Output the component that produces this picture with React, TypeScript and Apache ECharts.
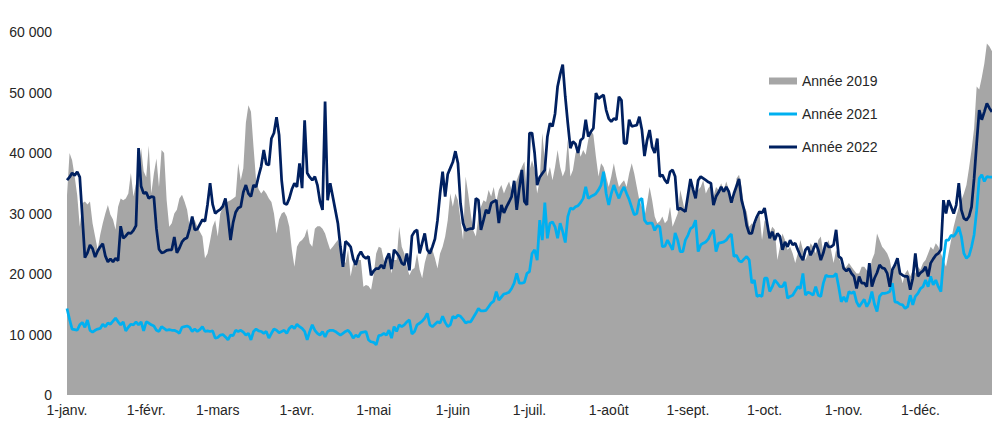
import React, { useEffect, useRef } from "react";
import * as echarts from "echarts";

// Month names used for the day categories (labels shown on the 1st of each month)
const monthNames = ["janv.", "févr.", "mars", "avr.", "mai", "juin", "juil.", "août", "sept.", "oct.", "nov.", "déc."];
const monthLengths = [31, 28, 31, 30, 31, 30, 31, 31, 30, 31, 30, 31];
const shownDays = 363; // the picture stops around 29 Dec

// Values in thousands, one per day
const annee2019 = [
  33.0, 40.0, 38.8, 36.1, 33.0, 27.8, 31.7, 32.0, 31.5, 32.0,
  28.4, 26.2, 24.0, 26.5, 28.4, 30.0, 31.4, 29.8, 29.0, 27.3,
  31.1, 32.5, 32.2, 32.5, 33.3, 36.7, 32.8, 35.0, 36.6, 40.8,
  37.0, 36.0, 41.2, 33.3, 36.6, 39.1, 34.4, 40.5, 40.0, 32.2,
  27.8, 28.4, 30.0, 30.6, 32.5, 33.1, 32.0, 30.6, 27.8, 28.9,
  28.9, 27.8, 27.0, 26.2, 22.6, 23.4, 25.5, 27.8, 28.9, 26.2,
  30.0, 31.0, 31.7, 32.0, 32.2, 32.5, 32.8, 38.3, 35.5, 37.5,
  45.0, 47.9, 46.8, 41.0, 35.5, 34.0, 33.3, 33.9, 33.3, 32.5,
  31.9, 30.0, 26.7, 29.0, 30.0, 30.3, 29.5, 27.8, 24.0, 21.2,
  24.5, 25.3, 25.6, 26.2, 27.5, 25.1, 24.5, 27.5, 27.9, 27.9,
  27.5, 26.7, 25.3, 24.0, 24.5, 25.1, 25.6, 24.0, 22.3, 21.8,
  24.0, 19.6, 21.8, 21.2, 22.3, 22.3, 17.9, 18.2, 18.0, 17.4,
  19.8, 23.4, 24.5, 24.3, 22.3, 21.5, 23.4, 20.1, 22.3, 22.3,
  27.8, 24.5, 23.4, 21.2, 19.8, 20.7, 21.0, 23.4, 20.7, 19.3,
  21.8, 23.4, 24.3, 24.0, 22.6, 20.9, 23.4, 24.5, 26.2, 28.9,
  33.3, 31.1, 33.3, 32.2, 28.9, 25.6, 36.1, 33.3, 30.0, 27.2,
  26.2, 29.5, 31.1, 32.2, 31.9, 33.9, 32.8, 34.4, 31.9, 33.9,
  34.7, 33.3, 34.4, 35.3, 33.9, 34.4, 35.5, 36.6, 37.7, 38.6,
  33.5, 37.2, 38.8, 37.2, 33.3, 35.5, 43.3, 38.8, 36.1, 37.7,
  35.5, 37.7, 40.5, 37.7, 36.1, 37.2, 42.2, 36.1, 37.2, 39.9,
  41.1, 39.4, 40.5, 39.7, 42.2, 43.8, 43.0, 39.4, 36.1, 38.3,
  37.7, 36.1, 34.4, 36.1, 38.3, 36.1, 34.4, 35.0, 35.5, 34.4,
  36.6, 38.3, 36.6, 34.4, 32.2, 31.1, 29.5, 31.7, 34.4, 32.2,
  29.5, 28.4, 28.7, 29.5, 28.4, 28.9, 31.1, 27.8, 28.9, 30.0,
  33.9, 32.0, 30.0, 32.2, 34.7, 33.5, 32.5, 33.9, 34.4, 35.5,
  33.3, 34.2, 34.7, 32.8, 34.4, 33.9, 35.0, 33.9, 35.3, 33.9,
  32.8, 32.2, 35.8, 36.4, 34.4, 31.1, 30.3, 27.8, 28.4, 27.8,
  28.9, 30.0, 25.6, 28.9, 28.4, 26.7, 27.8, 27.3, 22.3, 24.5,
  26.7, 25.6, 24.0, 24.5, 23.4, 21.8, 23.4, 25.6, 24.0, 22.3,
  23.4, 25.1, 24.5, 23.4, 25.6, 26.2, 23.4, 24.5, 25.6, 24.0,
  21.8, 24.0, 22.9, 21.5, 20.9, 21.2, 21.8, 21.2, 20.6, 20.1,
  20.1, 21.2, 21.2, 20.6, 20.1, 22.3, 23.4, 26.7, 25.6, 24.5,
  24.0, 23.4, 22.3, 20.1, 21.2, 21.8, 20.1, 18.5, 20.1, 20.7,
  19.6, 20.7, 20.1, 21.2, 20.7, 21.8, 22.3, 23.4, 24.5, 24.0,
  25.1, 24.5, 23.4, 22.3, 21.2, 23.4, 25.6, 27.8, 29.5, 31.0,
  32.2, 33.3, 34.7, 37.5, 40.5, 44.1, 51.0, 50.5, 52.5, 54.8,
  58.1, 57.6, 56.8,
];

const annee2021 = [
  14.3, 12.5, 10.9, 10.8, 10.7, 11.6, 12.0, 11.2, 12.4, 10.7,
  10.4, 10.7, 10.9, 11.0, 11.7, 11.3, 11.9, 11.7, 12.2, 12.7,
  12.1, 11.6, 12.1, 10.6, 11.2, 11.7, 11.6, 12.1, 11.6, 12.1,
  10.6, 12.1, 11.9, 11.6, 11.4, 10.7, 10.5, 11.3, 11.0, 10.7,
  10.8, 10.7, 10.7, 10.5, 10.2, 11.2, 11.3, 11.4, 11.2, 10.5,
  10.9, 10.5, 10.8, 11.3, 10.5, 10.6, 10.5, 10.6, 9.4, 9.5,
  9.9, 10.0, 9.6, 9.1, 9.9, 9.8, 10.7, 10.5, 10.7, 10.4,
  9.9, 10.2, 9.1, 10.5, 10.9, 10.6, 10.5, 10.2, 10.5, 9.4,
  10.2, 10.9, 10.7, 10.3, 10.5, 10.7, 10.2, 11.0, 11.4, 11.0,
  11.7, 11.3, 11.0, 10.5, 9.1, 10.5, 11.6, 10.7, 10.2, 9.9,
  10.5, 9.6, 10.5, 10.7, 10.7, 10.5, 10.2, 9.9, 10.2, 10.5,
  10.7, 10.2, 9.4, 9.9, 9.6, 10.3, 10.4, 10.5, 9.1, 8.8,
  8.7, 8.3, 9.8, 9.9, 10.2, 9.9, 10.7, 9.4, 11.3, 10.5,
  11.6, 11.3, 11.6, 12.1, 12.4, 10.1, 10.5, 11.6, 11.9, 12.2,
  12.7, 13.5, 11.6, 11.3, 11.7, 12.1, 11.9, 13.0, 12.0, 11.3,
  11.6, 13.0, 12.7, 13.2, 13.0, 12.5, 11.9, 12.1, 12.1, 12.8,
  13.5, 14.3, 13.9, 13.9, 14.0, 14.6, 15.2, 15.5, 17.1, 15.7,
  16.2, 16.7, 16.8, 17.0, 17.6, 18.5, 20.1, 18.5, 18.5, 18.6,
  20.1, 20.4, 23.4, 24.0, 22.3, 28.9, 25.6, 31.8, 25.9, 28.4,
  28.6, 27.8, 25.9, 28.4, 27.0, 25.2, 29.5, 30.9, 30.7, 31.1,
  31.3, 31.8, 32.5, 34.4, 32.5, 32.8, 33.0, 33.3, 33.9, 34.7,
  36.9, 33.3, 31.4, 33.3, 34.7, 33.5, 32.5, 33.6, 34.4, 33.3,
  32.3, 31.0, 29.8, 30.0, 32.2, 32.5, 28.9, 28.3, 28.4, 28.4,
  27.2, 28.0, 27.8, 24.5, 24.6, 25.6, 24.8, 24.0, 26.8, 25.6,
  23.7, 23.7, 25.6, 26.4, 27.5, 27.8, 28.9, 23.7, 24.8, 25.1,
  25.3, 25.8, 26.7, 27.3, 23.7, 25.1, 25.2, 25.3, 25.6, 26.2,
  26.6, 22.9, 23.1, 22.2, 22.0, 22.5, 22.9, 22.3, 18.5, 19.0,
  16.3, 16.5, 16.3, 19.3, 19.3, 17.1, 17.9, 19.0, 18.5, 17.9,
  17.9, 18.7, 16.0, 16.3, 16.5, 17.2, 17.9, 17.6, 20.1, 16.5,
  17.0, 16.8, 16.5, 17.9, 16.5, 16.3, 18.5, 19.8, 19.6, 19.6,
  19.6, 20.1, 17.9, 15.4, 16.2, 15.4, 17.1, 16.8, 17.1, 15.4,
  14.6, 15.2, 15.8, 14.6, 15.4, 17.1, 15.0, 13.8, 16.3, 16.8,
  16.8, 16.9, 17.1, 18.5, 15.4, 15.3, 15.0, 14.9, 14.3, 14.6,
  16.5, 14.9, 16.3, 16.8, 17.6, 17.9, 19.0, 17.9, 19.6, 18.2,
  19.0, 17.9, 17.1, 22.3, 25.6, 25.6, 26.4, 26.2, 26.8, 27.8,
  26.2, 23.4, 22.6, 23.0, 24.5, 26.5, 30.5, 35.8, 36.4, 35.3,
  36.1, 36.0, 36.0,
];

const annee2022 = [
  35.5, 36.0, 36.7, 36.3, 36.9, 36.0, 29.5, 22.7, 23.5, 24.8,
  24.2, 22.8, 23.8, 24.5, 25.0, 23.0, 22.0, 22.5, 22.0, 22.6,
  22.2, 27.9, 25.9, 26.3, 26.8, 26.7, 27.2, 28.0, 40.8, 34.5,
  33.3, 33.5, 32.5, 32.8, 32.7, 27.5, 24.1, 23.5, 23.6, 23.9,
  24.0, 24.0, 26.1, 23.5, 24.3, 25.3, 25.8, 26.0, 27.5, 29.5,
  27.3, 27.4, 28.2, 29.0, 28.7, 31.5, 35.0, 31.5, 30.0, 30.4,
  30.7, 31.2, 32.5, 29.5, 25.6, 28.5, 30.2, 30.9, 31.1, 33.5,
  34.7, 33.3, 32.8, 34.7, 34.4, 36.2, 37.8, 40.5, 38.2, 38.0,
  42.4, 43.3, 45.9, 43.0, 35.5, 31.7, 31.5, 32.5, 34.0, 35.0,
  34.4, 38.3, 34.2, 45.4, 36.7, 36.0, 35.5, 36.1, 34.7, 32.0,
  30.6, 48.5, 32.2, 35.0, 32.8, 30.6, 28.4, 24.5, 21.2, 25.4,
  25.0, 24.5, 22.5, 21.5, 23.0, 23.7, 22.9, 22.6, 22.9, 19.8,
  20.5, 20.9, 20.9, 21.5, 20.9, 22.5, 23.4, 20.8, 24.0, 23.5,
  22.9, 21.8, 21.5, 23.4, 20.6, 26.3, 27.0, 27.3, 23.4, 25.1,
  26.7, 24.0, 23.4, 24.5, 25.8, 28.9, 33.3, 36.9, 32.8, 36.5,
  37.5, 38.5, 40.3, 38.3, 31.7, 28.4, 27.2, 27.4, 27.5, 27.5,
  32.5, 32.2, 27.3, 28.9, 30.6, 30.0, 31.7, 32.0, 32.2, 28.4,
  31.4, 30.1, 31.1, 31.9, 32.8, 35.4, 30.6, 34.1, 37.2, 32.0,
  31.4, 43.3, 43.3, 40.0, 34.7, 36.0, 36.6, 37.2, 42.7, 44.9,
  44.4, 46.5, 51.0, 53.0, 54.6, 49.3, 44.9, 40.8, 41.9, 41.5,
  40.0, 42.1, 42.5, 45.5, 42.7, 43.5, 44.1, 49.9, 49.0, 49.3,
  49.6, 47.1, 45.7, 45.2, 45.7, 45.5, 49.3, 48.7, 41.6, 41.6,
  45.5, 44.4, 44.5, 44.6, 46.0, 43.8, 39.5, 42.1, 43.8, 41.0,
  40.0, 42.4, 36.1, 36.4, 35.5, 35.0, 36.9, 37.2, 36.1, 30.6,
  30.9, 30.6, 30.3, 33.0, 35.7, 34.0, 32.5, 35.5, 36.1, 35.8,
  35.5, 35.2, 35.0, 31.4, 32.8, 33.5, 34.4, 33.6, 34.4, 33.6,
  31.8, 33.3, 34.5, 35.7, 32.2, 30.6, 28.0, 26.7, 26.7, 28.4,
  29.5, 30.3, 30.1, 30.9, 28.4, 25.9, 27.0, 25.6, 26.7, 26.2,
  24.0, 25.3, 24.5, 25.6, 24.8, 25.1, 24.0, 23.0, 22.3, 24.0,
  24.5, 23.1, 24.0, 25.1, 24.0, 22.3, 23.5, 25.2, 24.5, 24.5,
  24.8, 27.3, 22.9, 22.6, 20.9, 20.5, 20.9, 20.1, 19.6, 17.6,
  19.6, 18.5, 18.5, 17.9, 21.8, 17.9, 19.3, 20.2, 21.5, 21.0,
  20.9, 20.1, 17.9, 20.7, 21.5, 22.6, 20.1, 19.8, 19.6, 19.6,
  17.4, 19.3, 23.4, 19.6, 20.2, 20.5, 21.2, 19.6, 21.8, 22.5,
  23.1, 23.4, 24.0, 32.2, 30.0, 32.2, 31.1, 30.0, 31.4, 35.0,
  30.6, 29.2, 28.9, 29.5, 31.1, 35.8, 41.6, 47.1, 45.5, 46.8,
  48.2, 47.4, 46.8,
];

const seriesNames = ["Année 2019", "Année 2021", "Année 2022"];
const yMax = 60000;
const yInterval = 10000;

const toUnits = (arr: number[]) => arr.slice(0, shownDays).map((v) => Math.round(v * 1000));

const dayCategories: string[] = [];
monthLengths.forEach((len, m) => {
  for (let d = 1; d <= len; d++) dayCategories.push(`${d}-${monthNames[m]}`);
});
const categories = dayCategories.slice(0, shownDays);

const FONT = "'Liberation Sans', Arial, Helvetica, sans-serif";
const LINE_ICON = "path://M0,0 L28,0 L28,3 L0,3 Z";

export default function App() {
  const ref = useRef<HTMLDivElement>(null);

  useEffect(() => {
    document.body.style.margin = "0";
    if (!ref.current) return;
    const chart = echarts.init(ref.current, undefined, { renderer: "svg" });
    chart.setOption({
      animation: false,
      backgroundColor: "#ffffff",
      grid: { left: 67, right: 0, top: 32, bottom: 28, containLabel: false, outerBoundsMode: "none" },
      legend: {
        orient: "vertical",
        left: 769,
        top: 74,
        padding: 0,
        itemWidth: 28,
        itemHeight: 7,
        itemGap: 19,
        symbolKeepAspect: true,
        selectedMode: false,
        textStyle: { fontFamily: FONT, fontSize: 14, color: "#262626", lineHeight: 14 },
        data: [
          { name: seriesNames[0], icon: "rect" },
          { name: seriesNames[1], icon: LINE_ICON },
          { name: seriesNames[2], icon: LINE_ICON },
        ],
      },
      xAxis: {
        type: "category",
        boundaryGap: false,
        data: categories,
        axisLine: { show: false },
        axisTick: { show: false },
        splitLine: { show: false },
        axisLabel: {
          interval: (_i: number, value: string) => value.startsWith("1-"),
          fontFamily: FONT,
          fontSize: 14,
          color: "#262626",
          margin: 8,
          hideOverlap: false,
        },
      },
      yAxis: {
        type: "value",
        min: 0,
        max: yMax,
        interval: yInterval,
        axisLine: { show: false },
        axisTick: { show: false },
        splitLine: { show: false },
        axisLabel: {
          fontFamily: FONT,
          fontSize: 14,
          color: "#262626",
          margin: 15,
          formatter: (v: number) => (v === 0 ? "0" : `${v / 1000} 000`),
        },
      },
      series: [
        {
          name: seriesNames[0],
          type: "line",
          data: toUnits(annee2019),
          symbol: "none",
          color: "#A6A6A6",
          lineStyle: { width: 0, color: "#A6A6A6" },
          areaStyle: { color: "#A6A6A6", opacity: 1 },
          z: 1,
        },
        {
          name: seriesNames[1],
          type: "line",
          data: toUnits(annee2021),
          symbol: "none",
          color: "#00B0F0",
          lineStyle: { width: 2.75, color: "#00B0F0" },
          z: 2,
        },
        {
          name: seriesNames[2],
          type: "line",
          data: toUnits(annee2022),
          symbol: "none",
          color: "#002060",
          lineStyle: { width: 2.75, color: "#002060" },
          z: 3,
        },
      ],
    });
    return () => chart.dispose();
  }, []);

  return <div ref={ref} style={{ width: 992, height: 423 }} />;
}
